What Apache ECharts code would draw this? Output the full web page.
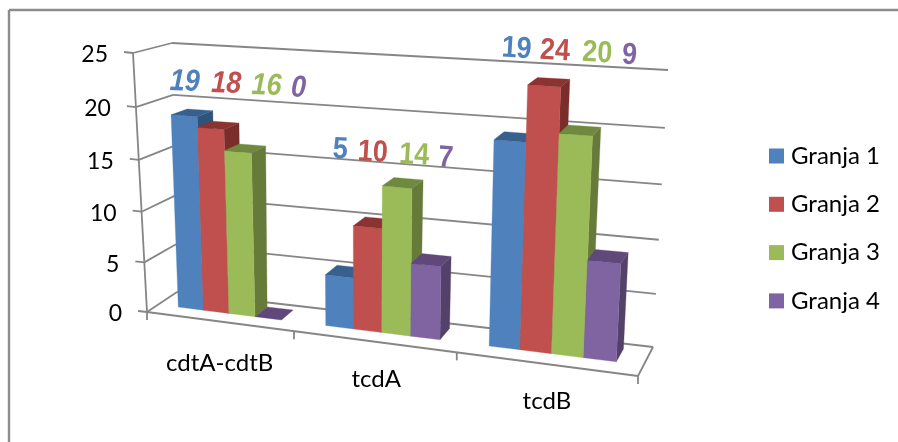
<!DOCTYPE html>
<html>
<head>
<meta charset="utf-8">
<style>html,body{margin:0;padding:0;background:#fff}#c{width:898px;height:442px}</style>
<script src="https://cdn.jsdelivr.net/npm/echarts@6/dist/echarts.min.js"></script>
</head>
<body>
<div id="c"></div>
<script>
// Chart values
const categories = ['cdtA-cdtB', 'tcdA', 'tcdB'];
const seriesNames = ['Granja 1', 'Granja 2', 'Granja 3', 'Granja 4'];
const granja1 = [19, 5, 19];
const granja2 = [18, 10, 24];
const granja3 = [16, 14, 20];
const granja4 = [0, 7, 9];
const valueTicks = [0, 5, 10, 15, 20, 25];

// Face colours of each bar: front, top, side
const faceColors = [
  ['#4F81BD', '#38608F', '#2F5379'],
  ['#C0504D', '#8B3331', '#7A2D2B'],
  ['#9BBB59', '#6F8A3F', '#667B3A'],
  ['#8064A2', '#60497A', '#544069']
];
// Height on the back wall, in axis units, where each group's value labels float
const labelLevels = [21.4, 15.9, 26.1];
// Horizontal nudges of the floating labels, per category and series
const labelNudge = [[-11, -2, 5, 3], [-5, -8, -3, -9], [3, 1, 2, -8]];
// Placement of the category names relative to the front floor edge
const labelDrop = [42, 38, 37];
const labelShift = [1, 3, 2];

// The cartesian grid is hidden; its scale feeds the 3D box projection below
const GRID = { left: 100, top: 100, width: 300, height: 200 };
const toU = px => (px - GRID.left) / GRID.width;
const toV = py => (GRID.top + GRID.height - py) / GRID.height;

// Screen corners of the box: [u, v, w] in binary index u + 2v + 4w
const corners = [
  [147, 312], [638, 376], [133, 53], [652, 88],
  [177, 292], [653, 347], [172, 43], [668, 70]
];
const RATIO_U = 1.17, RATIO_V = 1.055;
const persp = (t, r) => (t / r) / (t / r + (1 - t));

function project(u, v, w) {
  const a = persp(u, RATIO_U), b = persp(v, RATIO_V);
  const out = [0, 0];
  for (let i = 0; i < 8; i++) {
    const k = (i & 1 ? a : 1 - a) * (i & 2 ? b : 1 - b) * (i & 4 ? w : 1 - w);
    out[0] += k * corners[i][0];
    out[1] += k * corners[i][1];
  }
  return out;
}

const LINE = { stroke: '#868686', lineWidth: 1.8, fill: null };
const line = (p, q) => ({
  type: 'line',
  shape: { x1: p[0], y1: p[1], x2: q[0], y2: q[1] },
  style: LINE
});
const AXIS_FONT = 'Lato';
const TICK_SIZE = 23;
const NAME_SIZE = 24;

const BAR_SHARE = 0.71, W_FRONT = 0.37, W_BACK = 0.82;

// One 3D bar per category, followed by its floating value label
function barRenderer(slot) {
  return function (params, api) {
    const cat = api.value(0), val = api.value(1);
    const base = api.coord([cat, 0]);
    const top = api.coord([cat, val]);
    const band = api.size([1, 0])[0] / GRID.width;
    const mid = toU(base[0]);
    const barW = BAR_SHARE * band / 4;
    const u0 = mid - BAR_SHARE * band / 2 + slot * barW;
    const u1 = u0 + barW;
    const v0 = toV(base[1]), v1 = toV(top[1]);
    const c = faceColors[slot];
    const poly = (pts, fill) => ({
      type: 'polygon',
      shape: { points: pts },
      style: { fill: fill, stroke: fill, lineWidth: 0.3 }
    });
    const children = [];
    if (val > 0) {
      children.push(poly([project(u1, v0, W_FRONT), project(u1, v0, W_BACK), project(u1, v1, W_BACK), project(u1, v1, W_FRONT)], c[2]));
      children.push(poly([project(u0, v0, W_FRONT), project(u1, v0, W_FRONT), project(u1, v1, W_FRONT), project(u0, v1, W_FRONT)], c[0]));
    }
    children.push(poly([project(u0, v1, W_FRONT), project(u1, v1, W_FRONT), project(u1, v1, W_BACK), project(u0, v1, W_BACK)], c[1]));

    const levelY = api.coord([cat, labelLevels[cat]])[1];
    const spread = barW * 1.27;
    const pos = project(mid + (slot - 1.5) * spread, toV(levelY), 1);
    children.push({
      type: 'text',
      x: pos[0] + labelNudge[cat][slot],
      y: pos[1],
      rotation: cat === 0 ? -0.03 : -0.06,
      scaleY: 1.13,
      style: {
        text: String(val),
        fill: c[0],
        fontFamily: 'Liberation Sans',
        fontWeight: 'bold',
        fontStyle: cat === 0 ? 'italic' : 'normal',
        fontSize: 27,
        align: 'center',
        verticalAlign: 'middle'
      }
    });
    return { type: 'group', children: children };
  };
}

// Gridlines on both walls, the value axis and its labels
function valueFrame(params, api) {
  const val = api.value(0);
  const v = toV(api.coord([0, val])[1]);
  const front = project(0, v, 0);
  const children = [
    line(front, project(0, v, 1)),
    line(project(0, v, 1), project(1, v, 1)),
    line([front[0] - 9, front[1] - 1], front),
    {
      type: 'text',
      x: front[0] - 25,
      y: front[1] + 2,
      style: {
        text: String(val),
        fill: '#000',
        fontFamily: AXIS_FONT,
        fontSize: TICK_SIZE,
        align: 'right',
        verticalAlign: 'middle'
      }
    }
  ];
  if (val === 0) {
    children.push(line(front, project(1, 0, 0)));
    children.push(line(project(1, 0, 0), project(1, 0, 1)));
    children.push(line(front, project(0, toV(api.coord([0, 25])[1]), 0)));
  }
  return { type: 'group', children: children };
}

// Category ticks under the front floor edge and the category names
function categoryFrame(params, api) {
  const cat = api.value(0);
  const c = api.coord([cat, 0]);
  const band = api.size([1, 0])[0];
  const v0 = toV(c[1]);
  const mid = project(toU(c[0]), v0, 0);
  const tick = u => {
    const p = project(u, v0, 0);
    return line(p, [p[0], p[1] + 8]);
  };
  const children = [
    tick(toU(c[0] + band / 2)),
    {
      type: 'text',
      x: mid[0] + labelShift[cat],
      y: mid[1] + labelDrop[cat],
      style: {
        text: categories[cat],
        fill: '#000',
        fontFamily: AXIS_FONT,
        fontSize: NAME_SIZE,
        align: 'center',
        verticalAlign: 'middle'
      }
    }
  ];
  if (cat === 0) children.push(tick(toU(c[0] - band / 2)));
  return { type: 'group', children: children };
}

const barSeries = [granja1, granja2, granja3, granja4].map((vals, slot) => ({
  type: 'custom',
  name: seriesNames[slot],
  coordinateSystem: 'cartesian2d',
  itemStyle: { color: faceColors[slot][0] },
  z: 3,
  silent: true,
  renderItem: barRenderer(slot),
  data: vals.map((v, i) => [i, v])
}));

const chart = echarts.init(document.getElementById('c'), null, { renderer: 'canvas' });
chart.setOption({
  animation: false,
  backgroundColor: '#fff',
  grid: GRID,
  xAxis: { type: 'category', data: categories, show: false },
  yAxis: { type: 'value', min: 0, max: 25, interval: 5, show: false },
  legend: {
    orient: 'vertical',
    left: 769,
    top: 143,
    padding: 0,
    data: seriesNames,
    icon: 'rect',
    itemWidth: 15,
    itemHeight: 15,
    itemGap: 22.3,
    selectedMode: false,
    textStyle: { fontFamily: AXIS_FONT, fontSize: NAME_SIZE, color: '#000', lineHeight: 26, padding: [0, 0, 0, 2] }
  },
  graphic: [
    { type: 'line', shape: { x1: 9, y1: 10, x2: 898, y2: 10 }, style: { stroke: '#8C8C8C', lineWidth: 2.4 } },
    { type: 'line', shape: { x1: 9, y1: 10, x2: 9, y2: 442 }, style: { stroke: '#8C8C8C', lineWidth: 2.4 } }
  ],
  series: [
    {
      type: 'custom', name: 'frame', coordinateSystem: 'cartesian2d', z: 1, silent: true,
      renderItem: valueFrame,
      encode: { x: 1, y: 0 },
      data: valueTicks.map(t => [t, 0])
    },
    {
      type: 'custom', name: 'categoryFrame', coordinateSystem: 'cartesian2d', z: 1, silent: true,
      renderItem: categoryFrame,
      data: categories.map((_, i) => [i, 0])
    }
  ].concat(barSeries)
});
</script>
</body>
</html>
